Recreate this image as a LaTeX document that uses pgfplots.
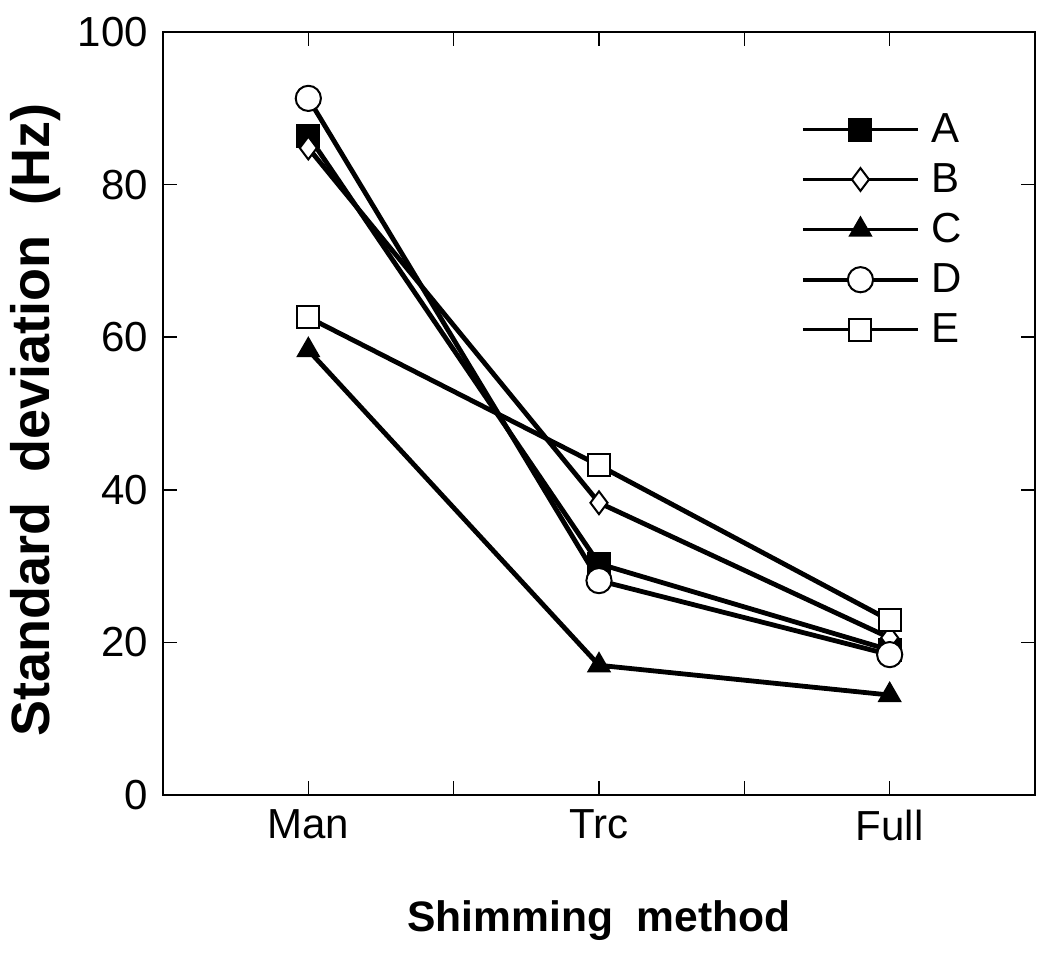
\documentclass[border=0pt]{standalone}
\usepackage{fontspec}
\setmainfont{Liberation Sans}
\usepackage{pgfplots}
\pgfplotsset{compat=1.18}
\begin{document}
\begin{tikzpicture}[x=1pt,y=1pt]
\useasboundingbox (-81.5,-81.5) rectangle (443.5,397.5);
\begin{axis}[
  at={(0,0)}, anchor=south west,
  scale only axis, width=436pt, height=381.5pt,
  xmin=0.5, xmax=3.5, ymin=0, ymax=100,
  xtick={1,1.5,2,2.5,3}, xticklabels={Man,,Trc,,Full},
  ytick={0,20,40,60,80,100},
  xtick pos=both, ytick pos=both,
  xticklabel pos=lower, yticklabel pos=left,
  tick align=inside, major tick length=7pt,
  every tick/.style={black, line width=0.8pt},
  axis line style={line width=1pt},
  /pgf/number format/assume math mode=true,
  tick label style={font=\fontsize{21}{25}\selectfont},
  xticklabel style={yshift=-4pt},
  yticklabel style={xshift=-4pt},
  xlabel={\bfseries Shimming\ \ method},
  ylabel={\bfseries Standard\ \ deviation\ \ (Hz)},
  xlabel style={font=\fontsize{21.3}{26}\selectfont, at={(axis description cs:0.5,-0.164)}, anchor=center},
  ylabel style={font=\fontsize{27}{30}\selectfont, at={(axis description cs:-0.1456,0.4915)}, anchor=center},
  legend style={at={(axis description cs:0.7245,0.904)}, anchor=north west,
    draw=none, fill=none, font=\fontsize{21}{25}\selectfont,
    row sep=5pt},
  legend cell align=left,
  legend image code/.code={
    \draw[mark repeat=2,mark phase=2,line width=1.8pt]
      plot coordinates {(0pt,0pt) (28.75pt,0pt) (57.5pt,0pt)};
    \path (61pt,0pt);},
  every axis plot/.append style={line width=2.4pt, black},
]
\addplot[mark=square*, mark size=5.5pt, mark options={line width=1pt, fill=black}]
  coordinates {(1,86.4) (2,30.3) (3,19.0)};
\addlegendentry{A}
\addplot[mark=diamond*, mark size=5.7pt, mark options={line width=1pt, fill=white}]
  coordinates {(1,84.8) (2,38.3) (3,20.6)};
\addlegendentry{B}
\addplot[mark=triangle*, mark size=6pt, mark options={line width=1pt, fill=black}]
  coordinates {(1,58.3) (2,17.0) (3,13.1)};
\addlegendentry{C}
\addplot[mark=*, mark size=6.3pt, mark options={line width=1pt, fill=white}]
  coordinates {(1,91.3) (2,28.1) (3,18.4)};
\addlegendentry{D}
\addplot[mark=square*, mark size=5.5pt, mark options={line width=1pt, fill=white}]
  coordinates {(1,62.6) (2,43.2) (3,22.9)};
\addlegendentry{E}
\end{axis}
\end{tikzpicture}
\end{document}
